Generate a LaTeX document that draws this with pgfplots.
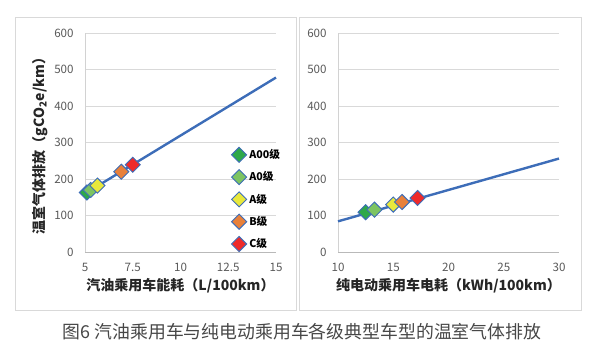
\documentclass[border=0pt]{standalone}
\usepackage{fontspec}
\setmainfont{Noto Sans CJK SC}
\usepackage{pgfplots}
\pgfplotsset{compat=1.18}
\usepackage{pgfplotstable}
\definecolor{lineblue}{HTML}{3D6DB8}
\definecolor{cA00}{HTML}{2EA84A}
\definecolor{cA0}{HTML}{7DC462}
\definecolor{cA}{HTML}{E8E83C}
\definecolor{cB}{HTML}{E8803A}
\definecolor{cC}{HTML}{EE2A2A}
\definecolor{gridc}{HTML}{D9D9D9}
\definecolor{tickc}{HTML}{595959}
\definecolor{framec}{HTML}{D9D9D9}

\pgfplotstableread{
x y
5 160
15 478
}\gasline
\pgfplotstableread{
x y
10 84
30 256
}\evline

\pgfplotsset{
  panel/.style={
    scale only axis,
    height=164.25pt,
    ymin=0, ymax=600, ytick={0,100,...,600},
    axis x line*=bottom, axis y line*=left,
    x axis line style={draw=gray!55,-},
    y axis line style={draw=gray!35,-},
    ymajorgrids, grid style={draw=gridc, line width=0.6pt},
    major tick length=0pt,
    tick label style={font=\fontsize{8.7}{10}\selectfont, text=tickc},
    /pgf/number format/assume math mode=true,
    /pgf/number format/fixed,
    /pgf/number format/precision=1,
    xticklabel style={yshift=-5pt},
    yticklabel style={xshift=-5pt},
    label style={font=\bfseries\fontsize{10.5}{12}\selectfont, text=black!85},
    clip=false,
  },
  dmark/.style={only marks, mark=square*, mark size=4pt,
    mark options={rotate=45, draw=lineblue, line width=0.7pt, fill=#1}},
}

\begin{document}
\begin{tikzpicture}
\path[use as bounding box] (0,0) rectangle (450pt,-267.75pt);
\begin{scope}[x=0.75pt,y=-0.75pt]
\draw[framec, line width=0.6pt] (15,17) rectangle (296,310);
\draw[framec, line width=0.6pt] (299,17) rectangle (581,310);
\node[font=\fontsize{13.4}{15}\selectfont, text=black!72] at (302,332) {图6 汽油乘用车与纯电动乘用车各级典型车型的温室气体排放};
\end{scope}

\begin{axis}[panel,
  at={(63.75pt,-189pt)}, anchor=origin,
  width=143.25pt,
  xmin=5, xmax=15, xtick={5,7.5,10,12.5,15},
  xlabel={汽油乘用车能耗（L/100km）},
  ylabel={温室气体排放（gCO\textsubscript{2}e/km）},
  xlabel style={yshift=2pt},
  ylabel style={yshift=-2pt},
  legend style={draw=none, fill=none, at={(0.745,0.495)}, anchor=north west,
    font=\bfseries\fontsize{8}{10}\selectfont, row sep=4.3pt,
    legend cell align=left},
]
\addplot[lineblue, line width=1.8pt, forget plot] table[x=x,y=y] {\gasline};
\addplot[dmark=cA00] coordinates {(5.1,163)};
\addplot[dmark=cA0] coordinates {(5.3,170)};
\addplot[dmark=cA] coordinates {(5.65,182)};
\addplot[dmark=cB] coordinates {(6.9,220)};
\addplot[dmark=cC] coordinates {(7.5,239)};
\legend{A00级,A0级,A级,B级,C级}
\end{axis}

\begin{axis}[panel,
  at={(253.5pt,-189pt)}, anchor=origin,
  width=165.75pt,
  xmin=10, xmax=30, xtick={10,15,20,25,30},
  xlabel={纯电动乘用车电耗（kWh/100km）},
  xlabel style={yshift=2pt},
]
\addplot[lineblue, line width=1.8pt] table[x=x,y=y] {\evline};
\addplot[dmark=cA00] coordinates {(12.5,109)};
\addplot[dmark=cA0] coordinates {(13.3,116)};
\addplot[dmark=cA] coordinates {(15.0,130)};
\addplot[dmark=cB] coordinates {(15.8,137)};
\addplot[dmark=cC] coordinates {(17.2,148)};
\end{axis}
\end{tikzpicture}
\end{document}
